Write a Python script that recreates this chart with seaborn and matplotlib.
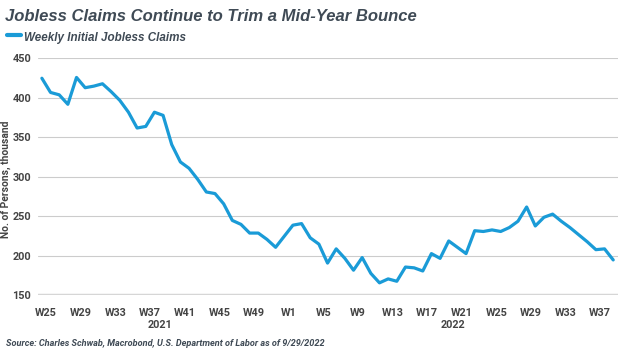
import numpy as np
import pandas as pd
import matplotlib
matplotlib.use('Agg')
import matplotlib.pyplot as plt
from matplotlib import font_manager
import seaborn as sns

# weekly initial jobless claims, thousands (W25 2021 .. W39 2022)
claims = [425, 407, 404, 392, 426, 413, 415, 418, 408, 397,
          382, 362, 364, 382, 378, 341, 319, 311, 297, 281,
          279, 266, 245, 240, 229, 229, 221, 211, 225, 239,
          241, 223, 215, 191, 209, 197, 182, 198, 178, 166,
          171, 168, 186, 185, 181, 203, 197, 219, 211, 203,
          232, 231, 233, 231, 236, 244, 262, 238, 249, 253,
          244, 236, 227, 218, 208, 209, 195]
weeks_2021 = [25, 29, 33, 37, 41, 45, 49]
weeks_2022 = [1, 5, 9, 13, 17, 21, 25, 29, 33, 37]
y_ticks = [150, 200, 250, 300, 350, 400, 450]

df = pd.DataFrame({'week': np.arange(len(claims)), 'claims': claims})

# the original uses a narrow face; Roboto is the slimmest one installed
names = {f.name for f in font_manager.fontManager.ttflist}
narrow = 'Roboto' if 'Roboto' in names else 'Liberation Sans'
tick_font = font_manager.FontProperties(family=[narrow, 'DejaVu Sans'], weight='bold', size=7.8)
ylab_font = font_manager.FontProperties(family=[narrow, 'DejaVu Sans'], weight='bold', size=7.4)
src_font = font_manager.FontProperties(family=[narrow, 'DejaVu Sans'], weight='bold',
                                       style='italic', size=6.6)

sns.set_theme(style='white')
plt.rcParams['font.family'] = ['Liberation Sans', 'DejaVu Sans']

blue = '#1a9bd7'
dark = '#3f4a55'
grey = '#444444'

fig = plt.figure(figsize=(6.3, 3.54), dpi=100)
ax = fig.add_axes([0.0603, 0.1653, 0.9206, 0.6695])

sns.lineplot(data=df, x='week', y='claims', color=blue, linewidth=2.3,
             ax=ax, label='Weekly Initial Jobless Claims')

ax.set_xlim(-0.45, 66.55)
ax.set_ylim(150, 450)
ax.set_yticks(y_ticks)
ax.set_yticklabels([str(v) for v in y_ticks])
ax.grid(axis='y', color='#cccccc', linewidth=0.8)
ax.axhline(150, color='#d6d6d6', linewidth=2.5, zorder=1)
for s in ax.spines.values():
    s.set_visible(False)

tick_pos = [w - 25 + 0.5 for w in weeks_2021] + [28 + w - 1 + 0.5 for w in weeks_2022]
tick_lab = ['W%d' % w for w in weeks_2021] + ['W%d' % w for w in weeks_2022]
ax.set_xticks(tick_pos)
ax.set_xticklabels(tick_lab)
ax.tick_params(axis='x', length=0, pad=9, labelcolor=grey)
ax.tick_params(axis='y', length=0, pad=5, labelcolor=grey)
for lab in ax.get_xticklabels() + ax.get_yticklabels():
    lab.set_fontproperties(tick_font)

ax.set_xlabel('')
ax.set_ylabel('No. of Persons, thousand', fontproperties=ylab_font, color=grey)
ax.yaxis.set_label_coords(-0.047, 0.49)

trans = ax.get_xaxis_transform()
ax.text(13.7, -0.105, '2021', transform=trans, ha='center', va='top',
        fontproperties=tick_font, color=grey)
ax.text(47.5, -0.105, '2022', transform=trans, ha='center', va='top',
        fontproperties=tick_font, color=grey)

leg = ax.legend(loc='upper left', bbox_to_anchor=(0.011, 0.915),
                bbox_transform=fig.transFigure, frameon=False,
                handlelength=0.95, handletextpad=0.2, borderpad=0,
                borderaxespad=0)
for t in leg.get_texts():
    t.set_fontsize(8.4)
    t.set_fontweight('bold')
    t.set_fontstyle('italic')
    t.set_color(dark)
leg.get_lines()[0].set_linewidth(3)

fig.text(0.008, 0.975, 'Jobless Claims Continue to Trim a Mid-Year Bounce',
         ha='left', va='top', fontsize=12, fontweight='bold', style='italic',
         color=dark)
fig.text(0.009, 0.03, 'Source: Charles Schwab, Macrobond, U.S. Department of Labor as of 9/29/2022',
         ha='left', va='center', fontproperties=src_font, color=dark)

fig.savefig('out.png', dpi=100)
